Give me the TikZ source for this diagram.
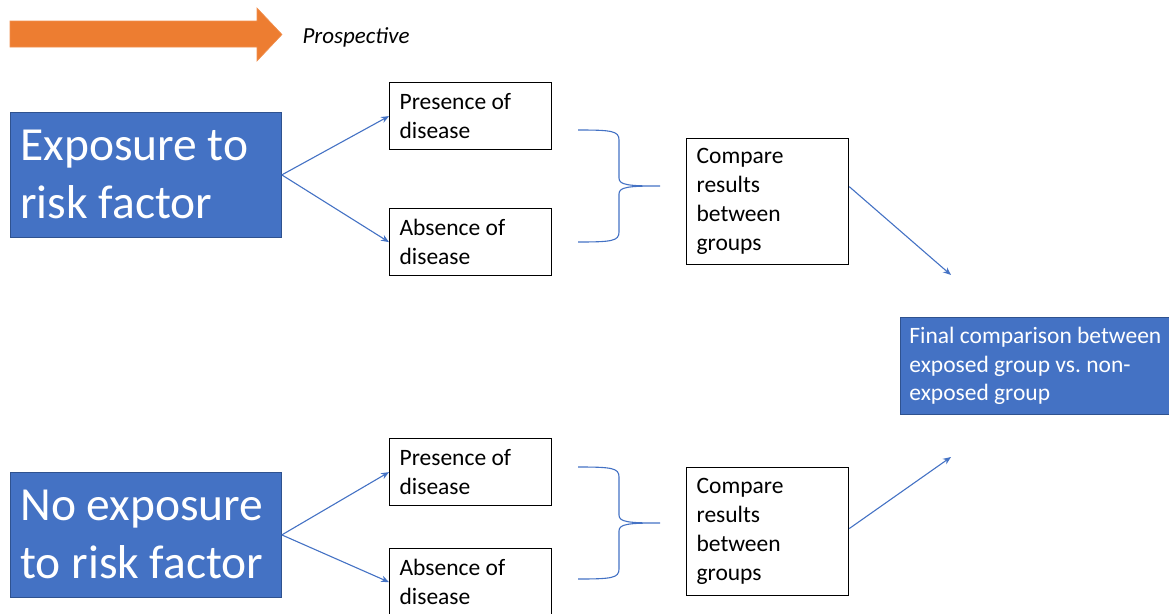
\documentclass[tikz,border=0pt]{standalone}
\usepackage{fontspec}
\setmainfont{Carlito}
\usetikzlibrary{arrows.meta}
\definecolor{boxblue}{HTML}{4472C4}
\definecolor{boxedge}{HTML}{2F528F}
\definecolor{arrorange}{HTML}{ED7D31}
\hyphenpenalty=10000
\exhyphenpenalty=10000
\frenchspacing

\begin{document}
\begin{tikzpicture}[x=1pt,y=-1pt,
	bigbox/.style={draw=boxedge,line width=0.8pt,fill=boxblue,text=white,anchor=north west,align=flush left,inner xsep=10pt,inner ysep=0pt,font=\fontsize{47.5}{58}\selectfont},
	whitebox/.style={draw=black,line width=1.2pt,anchor=north west,align=flush left,inner xsep=10pt,inner ysep=0pt,font=\fontsize{23.5}{29}\selectfont},
	link/.style={draw=boxblue,line width=1.1pt,-{Stealth[length=8pt,width=6.5pt]}},
	bracket/.style={draw=boxblue,line width=1.1pt}]
	\useasboundingbox (0,0) rectangle (1169,613);
	\filldraw[fill=arrorange,draw=arrorange!85!white,line width=0.6pt] (10,21) -- (257,21) -- (257,8) -- (282,34.5) -- (257,61) -- (257,47) -- (10,47) -- cycle;
	\node[anchor=west,font=\fontsize{23}{27}\selectfont\itshape] (prosp) at (299,37) {Prospective};

	\node[bigbox,text width=251pt,minimum height=125pt] (expTop) at (10,112) {Exposure to\\risk factor};
	\node[bigbox,text width=251pt,minimum height=125pt] (noExp) at (10,472) {No exposure\\to risk factor};

	\node[whitebox,text width=142pt,minimum height=67pt] (presTop) at (389,82) {Presence of\\disease};
	\node[whitebox,text width=142pt,minimum height=67pt] (absTop) at (389,208) {Absence of\\disease};
	\node[whitebox,text width=142pt,minimum height=67pt] (presBot) at (389,438) {Presence of\\disease};
	\node[whitebox,text width=142pt,minimum height=67pt] (absBot) at (389,548) {Absence of\\disease};

	\node[whitebox,text width=142pt,minimum height=126pt] (cmpTop) at (686,138) {Compare\\results\\between\\groups};
	\node[whitebox,text width=142pt,minimum height=128pt] (cmpBot) at (686,467) {Compare\\results\\between\\groups};

	\node[bigbox,font=\fontsize{23.5}{28.5}\selectfont,inner xsep=9pt,text width=264pt,minimum height=97pt] (final) at (900,317) {Final comparison between\\exposed group vs. non-\\exposed group};

	\draw[link] (expTop.east) -- (presTop.west);
	\draw[link] (expTop.east) -- (absTop.west);
	\draw[link] (noExp.east) -- (presBot.west);
	\draw[link] (noExp.east) -- (absBot.west);

	\foreach \dy/\tip in {0/tipTop,337/tipBot}
	{
		\coordinate (\tip) at (660,{186+\dy});
		\draw[bracket] (578,{130+\dy}) .. controls (612,{130+\dy}) and (619,{131+\dy}) .. (619,{140+\dy}) -- (619,{178+\dy})
			.. controls (619,{185+\dy}) and (628,{186+\dy}) .. (\tip)
			.. controls (628,{186+\dy}) and (619,{187+\dy}) .. (619,{194+\dy}) -- (619,{232+\dy})
			.. controls (619,{241+\dy}) and (612,{242+\dy}) .. (578,{242+\dy});
	}

	\coordinate (finTop) at (951,275);
	\coordinate (finBot) at (951,457);
	\draw[link] ([yshift=15pt]cmpTop.east) -- (finTop);
	\draw[link] ([yshift=3pt]cmpBot.east) -- (finBot);
\end{tikzpicture}
\end{document}
